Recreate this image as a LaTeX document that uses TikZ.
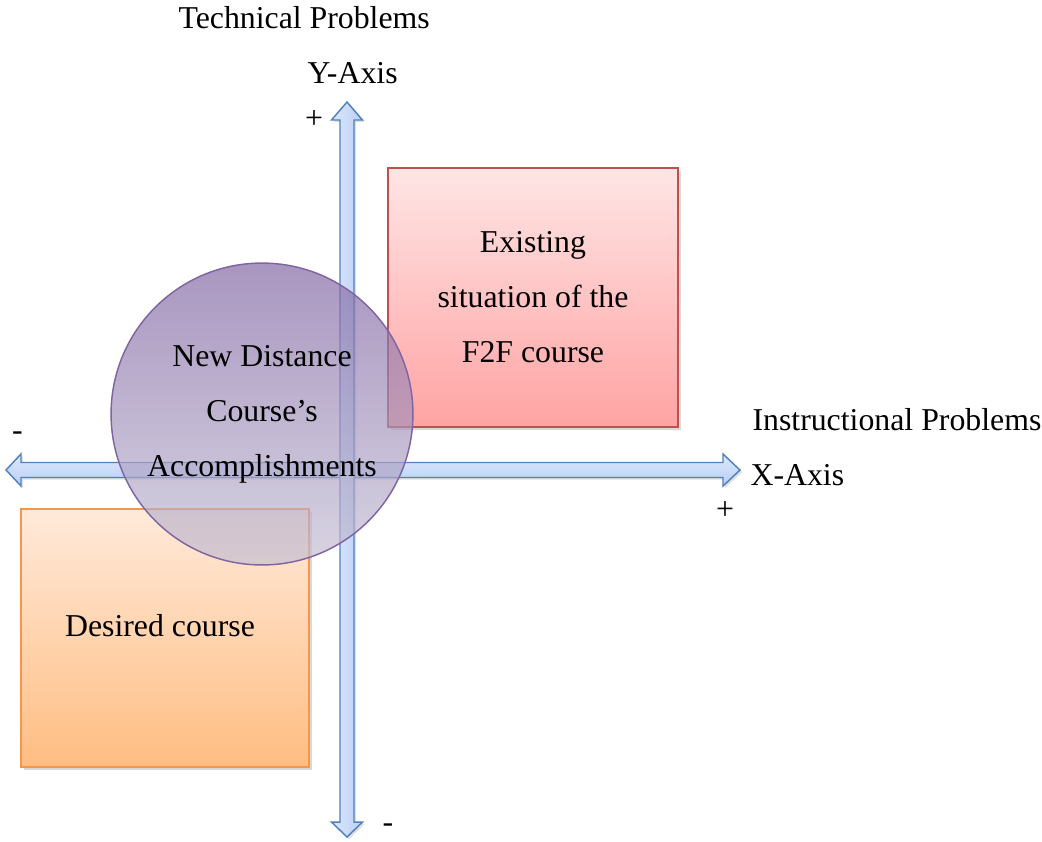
\documentclass[tikz,border=0pt]{standalone}
\usepackage{fontspec}
\setmainfont{Liberation Serif}
\usepackage{tikz}
\usetikzlibrary{positioning, shadows}

\definecolor{axisline}{RGB}{79,129,189}
\definecolor{axislight}{RGB}{220,232,252}
\definecolor{axisdark}{RGB}{186,206,244}
\definecolor{redline}{RGB}{192,80,77}
\definecolor{redtop}{RGB}{255,229,229}
\definecolor{redbottom}{RGB}{255,163,163}
\definecolor{orangeline}{RGB}{247,150,70}
\definecolor{orangetop}{RGB}{255,234,218}
\definecolor{orangebottom}{RGB}{255,189,130}
\definecolor{purpleline}{RGB}{128,100,162}
\definecolor{purpletop}{RGB}{128,100,162}
\definecolor{purplebottom}{RGB}{196,192,212}

\begin{document}
\begin{tikzpicture}[x=0.3773pt, y=-0.3773pt, font=\fontsize{12}{20.75}\selectfont,
    axisarrow/.style={draw=axisline, line width=0.55pt, line join=miter,
        drop shadow={opacity=0.25, shadow xshift=0.8pt, shadow yshift=-0.8pt}},
    quadbox/.style={rectangle, line width=0.75pt, inner sep=0pt,
        drop shadow={opacity=0.3, shadow xshift=1.2pt, shadow yshift=-1.2pt}},
    axislabel/.style={inner sep=0pt, anchor=base west}]

    \useasboundingbox (0,0) rectangle (1042,841);

    % Boxes for the existing and the desired course
    \node (existing) [quadbox, draw=redline, top color=redtop, bottom color=redbottom,
        minimum width=109.4pt, minimum height=97.7pt, align=center] at (533,297.5)
        {Existing\\situation of the\\F2F course};
    \node (desired) [quadbox, draw=orangeline, top color=orangetop, bottom color=orangebottom,
        minimum width=108.7pt, minimum height=97.3pt] at (165,638) {};
    \node (desiredtext) [inner sep=0pt] at (160,626) {Desired course};

    % Axes as block arrows
    \draw[axisarrow, top color=axislight, bottom color=axisdark]
        (6,470) -- (21,454) -- (21,462.5) -- (723,462.5) -- (723,454) -- (740,470)
        -- (723,486) -- (723,477.5) -- (21,477.5) -- (21,486) -- cycle;
    \draw[axisarrow, left color=axislight, right color=axisdark]
        (347,102) -- (362.5,120) -- (354,120) -- (354,822) -- (362.5,822) -- (347,837)
        -- (331.5,822) -- (340,822) -- (340,120) -- (331.5,120) -- cycle;

    % Axis labels and signs
    \node (technical) [axislabel] at (178,28) {Technical Problems};
    \node (yaxis) [axislabel] at (307,83) {Y-Axis};
    \node (instructional) [axislabel] at (752,430) {Instructional Problems};
    \node (xaxis) [axislabel] at (750,485) {X-Axis};
    \node (yplus) [inner sep=0pt] at (314,120) {+};
    \node (yminus) [inner sep=0pt] at (388,828) {-};
    \node (xplus) [inner sep=0pt] at (725,510) {+};
    \node (xminus) [inner sep=0pt] at (17.5,436) {-};

    % Circle for the new distance course
    \node (newcourse) [circle, draw=purpleline, line width=0.55pt, inner sep=0pt,
        minimum size=113.9pt, top color=purpletop, bottom color=purplebottom,
        fill opacity=0.68, text opacity=1, align=center] at (262,414)
        {New Distance\\Course’s\\Accomplishments};

\end{tikzpicture}
\end{document}
